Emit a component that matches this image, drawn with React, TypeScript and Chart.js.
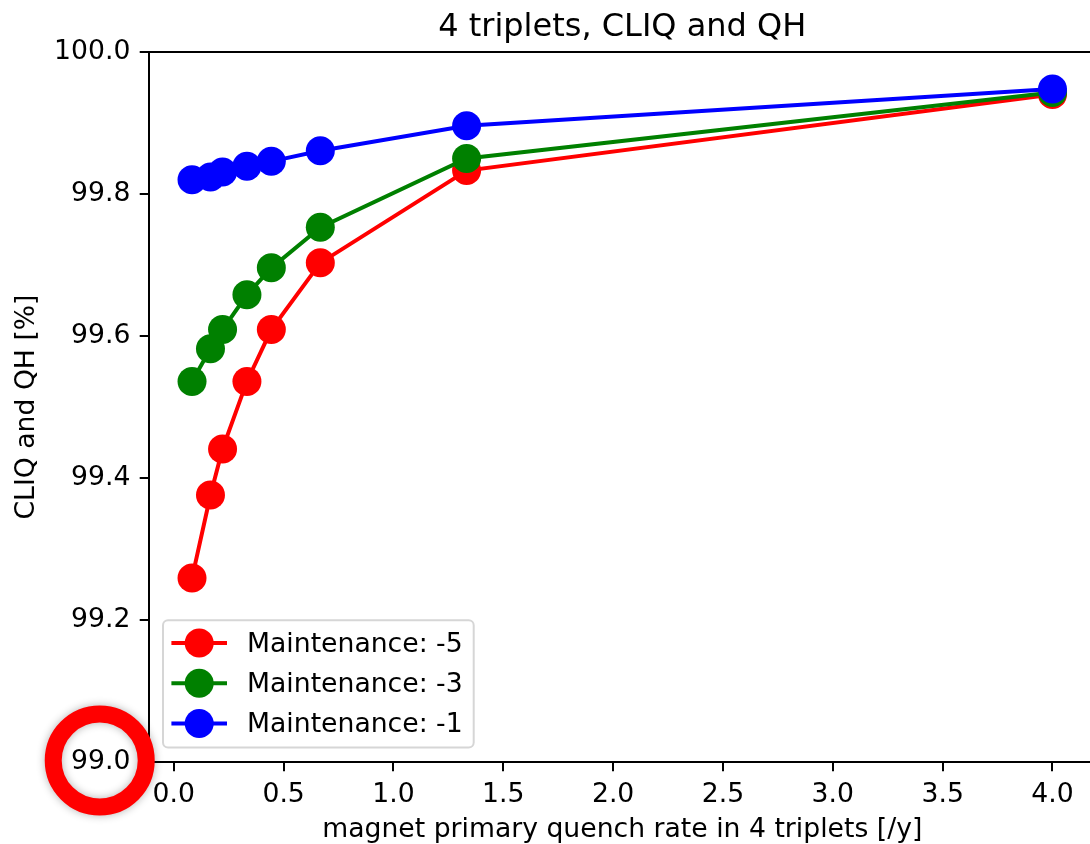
import React, { useEffect, useRef } from "react";
import { Chart, registerables } from "chart.js";

Chart.register(...registerables);

// ---- data ----
const xValues = [0.083, 0.167, 0.222, 0.333, 0.444, 0.667, 1.333, 4.0];
const maintMinus5 = [99.259, 99.376, 99.441, 99.536, 99.609, 99.703, 99.833, 99.94];
const maintMinus3 = [99.536, 99.582, 99.609, 99.658, 99.696, 99.753, 99.85, 99.943];
const maintMinus1 = [99.82, 99.824, 99.831, 99.839, 99.846, 99.861, 99.896, 99.948];
const seriesLabels = ["Maintenance: -5", "Maintenance: -3", "Maintenance: -1"];
const seriesColors = ["#ff0000", "#008000", "#0000ff"];
const xTicks = [0, 0.5, 1, 1.5, 2, 2.5, 3, 3.5, 4];
const xTickLabels = ["0.0", "0.5", "1.0", "1.5", "2.0", "2.5", "3.0", "3.5", "4.0"];
const yTicks = [99.0, 99.2, 99.4, 99.6, 99.8, 100.0];
const yTickLabels = ["99.0", "99.2", "99.4", "99.6", "99.8", "100.0"];
const titleText = "4 triplets, CLIQ and QH";
const xTitle = "magnet primary quench rate in 4 triplets [/y]";
const yTitle = "CLIQ and QH [%]";
const yMin = 99.0;
const yMax = 100.0;
const highlightedTick = 99.0;

const FONT = "DejaVu Sans";
const FS = 26.67;
const TARGET_RIGHT = 1102;

const framePlugin = {
  id: "frame",
  afterDraw(chart: any) {
    const { ctx, chartArea } = chart;
    ctx.save();
    ctx.strokeStyle = "#000";
    ctx.lineWidth = 2;
    ctx.strokeRect(chartArea.left, chartArea.top, chartArea.right - chartArea.left, chartArea.bottom - chartArea.top);
    ctx.restore();
  },
};

const legendPlugin = {
  id: "mplLegend",
  afterDraw(chart: any) {
    const { ctx, chartArea } = chart;
    const ds = chart.data.datasets;
    ctx.save();
    ctx.font = `${FS}px "${FONT}"`;
    let maxW = 0;
    ds.forEach((d: any) => {
      maxW = Math.max(maxW, ctx.measureText(d.label).width);
    });
    const rowH = 40.3;
    const left = chartArea.left + 14;
    const bottom = chartArea.bottom - 14.5;
    const height = 127.3;
    const top = bottom - height;
    const width = 84 + maxW + 11;
    const r = 5;
    ctx.beginPath();
    ctx.moveTo(left + r, top);
    ctx.lineTo(left + width - r, top);
    ctx.arcTo(left + width, top, left + width, top + r, r);
    ctx.lineTo(left + width, bottom - r);
    ctx.arcTo(left + width, bottom, left + width - r, bottom, r);
    ctx.lineTo(left + r, bottom);
    ctx.arcTo(left, bottom, left, bottom - r, r);
    ctx.lineTo(left, top + r);
    ctx.arcTo(left, top, left + r, top, r);
    ctx.closePath();
    ctx.fillStyle = "rgba(255,255,255,0.8)";
    ctx.fill();
    ctx.strokeStyle = "#d6d6d6";
    ctx.lineWidth = 2;
    ctx.stroke();
    ds.forEach((d: any, i: number) => {
      const cy = top + 22.7 + i * rowH;
      const x0 = left + 8.4;
      const x1 = left + 64;
      ctx.strokeStyle = d.borderColor;
      ctx.lineWidth = 4;
      ctx.beginPath();
      ctx.moveTo(x0, cy);
      ctx.lineTo(x1, cy);
      ctx.stroke();
      ctx.fillStyle = d.pointBackgroundColor;
      ctx.beginPath();
      ctx.arc((x0 + x1) / 2, cy, 14.5, 0, Math.PI * 2);
      ctx.fill();
      ctx.fillStyle = "#000";
      ctx.textAlign = "left";
      ctx.textBaseline = "middle";
      ctx.fillText(d.label, left + 84, cy + 2);
    });
    ctx.restore();
  },
};

const ringPlugin = {
  id: "ring",
  afterDraw(chart: any) {
    const { ctx } = chart;
    const ys = chart.scales.y;
    ctx.save();
    ctx.font = `${FS}px "${FONT}"`;
    const tw = ctx.measureText(yTickLabels[0]).width;
    const cx = ys.right - 9.3 - 9.3 - tw / 2 - 1;
    const cy = ys.getPixelForValue(highlightedTick) - 1.5;
    ctx.shadowColor = "rgba(0,0,0,0.3)";
    ctx.shadowBlur = 8;
    ctx.strokeStyle = "#ff0000";
    ctx.lineWidth = 17;
    ctx.beginPath();
    ctx.arc(cx, cy, 46.5, 0, Math.PI * 2);
    ctx.stroke();
    ctx.restore();
  },
};

export default function App() {
  const ref = useRef<HTMLCanvasElement | null>(null);
  useEffect(() => {
    if (!ref.current) return;
    const xMinData = Math.min(...xValues);
    const xMaxData = Math.max(...xValues);
    const margin = (xMaxData - xMinData) * 0.05;
    const series = [maintMinus5, maintMinus3, maintMinus1];
    const options: any = {
      animation: false,
      responsive: false,
      devicePixelRatio: 1,
      layout: { padding: { left: 0, right: 8, top: 0, bottom: 0 } },
      plugins: {
        legend: { display: false },
        tooltip: { enabled: false },
        title: {
          display: true,
          fullSize: false,
          text: titleText,
          color: "#000",
          font: { family: FONT, size: 32, weight: "normal" },
          padding: { top: 8, bottom: 5.6 },
        },
      },
      scales: {
        x: {
          type: "linear",
          min: xMinData - margin,
          max: xMaxData + margin,
          afterBuildTicks: (s: any) => {
            s.ticks = xTicks.map((v) => ({ value: v }));
          },
          afterFit: (s: any) => {
            s.height = 82;
            s.paddingLeft = 0;
            s.paddingRight = 0;
          },
          ticks: {
            autoSkip: false,
            maxRotation: 0,
            color: "#000",
            padding: 8,
            font: { family: FONT, size: FS },
            callback: (_v: any, i: number) => xTickLabels[i],
          },
          grid: { drawOnChartArea: false, drawTicks: true, tickLength: 9.3, color: "#000", lineWidth: 2 },
          border: { display: true, color: "#000", width: 2 },
          title: {
            display: true,
            text: xTitle,
            color: "#000",
            font: { family: FONT, size: FS },
            padding: { top: 0, bottom: -2 },
          },
        },
        y: {
          type: "linear",
          min: yMin,
          max: yMax,
          afterBuildTicks: (s: any) => {
            s.ticks = yTicks.map((v) => ({ value: v }));
          },
          afterFit: (s: any) => {
            s.width = 149;
          },
          ticks: {
            autoSkip: false,
            color: "#000",
            padding: 9.3,
            font: { family: FONT, size: FS },
            callback: (_v: any, i: number) => yTickLabels[i],
          },
          grid: { drawOnChartArea: false, drawTicks: true, tickLength: 9.3, color: "#000", lineWidth: 2 },
          border: { display: true, color: "#000", width: 2 },
          title: {
            display: true,
            text: yTitle,
            color: "#000",
            font: { family: FONT, size: FS },
            padding: { top: 11, bottom: 0 },
          },
        },
      },
    };
    const chart = new Chart(ref.current, {
      type: "line",
      data: {
        datasets: series.map((vals, i) => ({
          label: seriesLabels[i],
          data: xValues.map((x, j) => ({ x, y: vals[j] })),
          borderColor: seriesColors[i],
          backgroundColor: seriesColors[i],
          pointBackgroundColor: seriesColors[i],
          pointBorderWidth: 0,
          pointRadius: 14.5,
          pointHoverRadius: 14.5,
          borderWidth: 4,
          tension: 0,
          fill: false,
          order: 3 - i,
        })),
      },
      options,
      plugins: [framePlugin, legendPlugin, ringPlugin],
    });
    // widen the canvas so the (cropped) plot's right edge falls where the reference has it
    const diff = TARGET_RIGHT - chart.chartArea.right;
    if (Math.abs(diff) > 0.5) {
      chart.resize(Math.round(chart.width + diff), chart.height);
    }
    return () => chart.destroy();
  }, []);
  return (
    <div
      style={{
        position: "fixed",
        left: 0,
        top: 0,
        width: 1090,
        height: 844,
        overflow: "hidden",
        background: "#fff",
      }}
    >
      <canvas ref={ref} width={1110} height={844} style={{ display: "block" }} />
    </div>
  );
}
